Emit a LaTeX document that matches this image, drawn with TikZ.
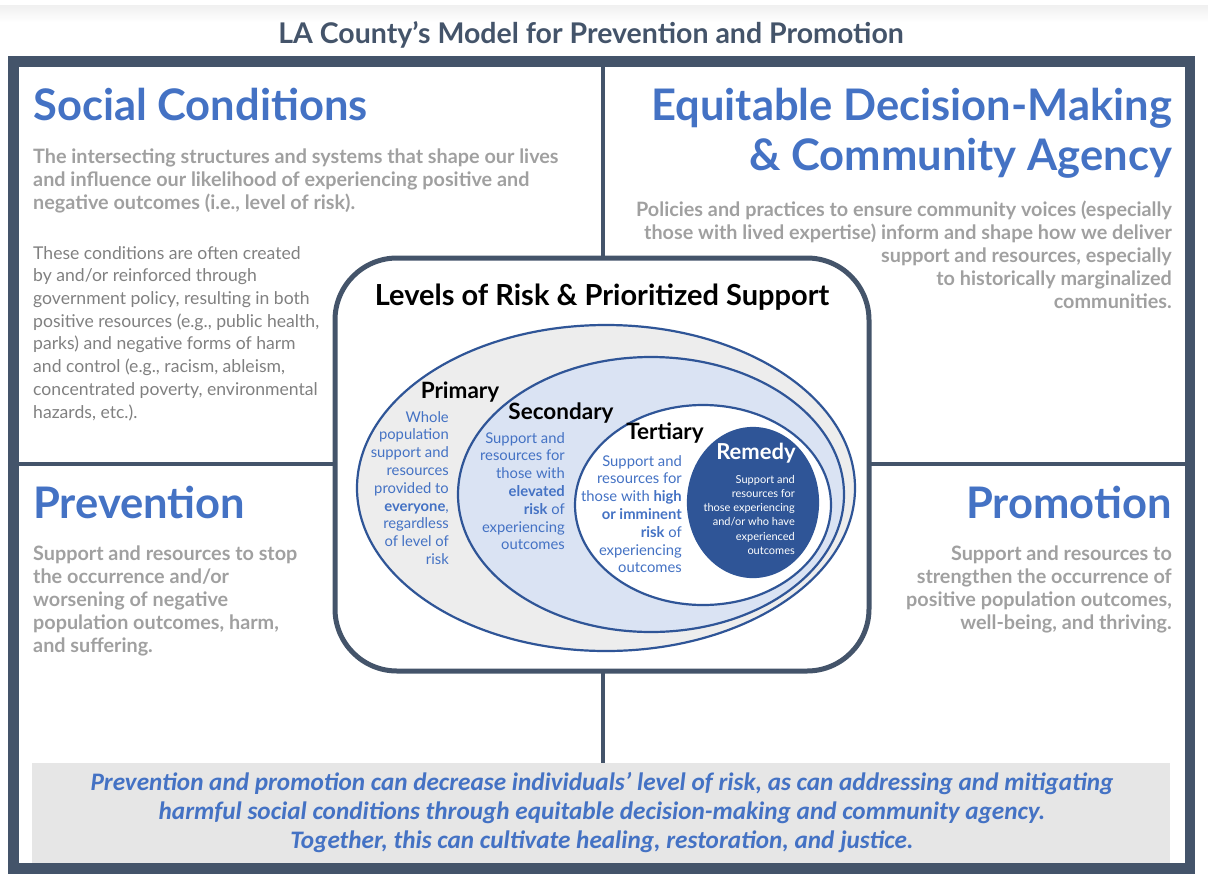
\documentclass[tikz,border=0pt]{standalone}
\usepackage{fontspec}
\setmainfont{Lato}
\newfontfamily\carl{Carlito}
\definecolor{framec}{HTML}{44546A}
\definecolor{headblue}{HTML}{4472C4}
\definecolor{boldgrey}{HTML}{A0A0A0}
\definecolor{reggrey}{HTML}{808080}
\definecolor{ellline}{HTML}{2F5597}
\definecolor{primfill}{HTML}{EDEDED}
\definecolor{secfill}{HTML}{DAE3F3}
\definecolor{boxgrey}{HTML}{E6E6E6}
\tikzset{
  heading/.style={inner sep=0, text=headblue, font=\fontsize{43.5}{48}\selectfont\bfseries},
  boldpara/.style={inner sep=0, text=boldgrey, font=\fontsize{19.8}{23}\selectfont\bfseries},
  regpara/.style={inner sep=0, text=reggrey, font=\fontsize{17.6}{22.7}\selectfont},
  divider/.style={draw=framec, line width=4},
  ell/.style={draw=ellline, line width=2.2},
  level/.style={inner sep=0, font=\fontsize{22.5}{24}\selectfont\bfseries},
  leveltext/.style={inner sep=0, text=headblue, align=right, anchor=north east, font=\fontsize{14.8}{17.8}\selectfont},
}
\begin{document}
\begin{tikzpicture}[x=1pt,y=-1pt]
\useasboundingbox (0,0) rectangle (1208,892);
\shade[top color=black!6, bottom color=white] (0,5) rectangle (1208,22);
% title
\node[inner sep=0, text=framec, font=\fontsize{28.5}{30}\selectfont\bfseries] (title) at (591,35) {LA County’s Model for Prevention and Promotion};
% dividers
\coordinate (vt) at (603,66);
\coordinate (vb) at (603,864);
\coordinate (hl) at (18,464);
\coordinate (hr) at (1185,464);
\draw[divider] (vt) -- (vb);
\draw[divider] (hl) -- (hr);
% frame
\draw[framec, line width=10.5] (13.25,61.25) rectangle (1189.75,868.25);
% bottom box
\node[fill=boxgrey, minimum width=1138, minimum height=100, anchor=north west, inner sep=0] (box) at (32,763) {};
\node[inner sep=0, align=center, text=headblue, font=\carl\fontsize{25.2}{29}\selectfont\bfseries\itshape] (boxtext) at (602,813)
 {Prevention and promotion can decrease individuals’ level of risk, as can addressing and mitigating\\
  harmful social conditions through equitable decision-making and community agency.\\
  Together, this can cultivate healing, restoration, and justice.};
% center panel
\draw[framec, line width=5, fill=white, rounded corners=62] (335,258) rectangle (869,671);
\node[inner sep=0, font=\fontsize{29}{32}\selectfont\bfseries] (levels) at (602,297) {Levels of Risk \& Prioritized Support};
% ellipses
\draw[ell, fill=primfill] (606,488) ellipse [x radius=249, y radius=163];
\draw[ell, fill=secfill] (651,494.5) ellipse [x radius=193, y radius=137.5];
\draw[ell, fill=white] (703,505) ellipse [x radius=128, y radius=100];
\draw[ell, fill=ellline] (753,502.5) ellipse [x radius=65, y radius=74.5];
% level labels
\node[level] (prim) at (460,392) {Primary};
\node[leveltext] (primt) at (449,411) {Whole\\population\\support and\\resources\\provided to\\\textbf{everyone},\\regardless\\of level of\\risk};
\node[level] (sec) at (561,413) {Secondary};
\node[leveltext] (sect) at (565,432) {Support and\\resources for\\those with\\\textbf{elevated}\\\textbf{risk} of\\experiencing\\outcomes};
\node[level] (ter) at (665,433) {Tertiary};
\node[leveltext] (tert) at (682,455) {Support and\\resources for\\those with \textbf{high}\\\textbf{or imminent}\\\textbf{risk} of\\experiencing\\outcomes};
\node[level, text=white, font=\fontsize{22}{24}\selectfont\bfseries] (rem) at (756,453) {Remedy};
\node[leveltext, text=white, font=\fontsize{11}{14.2}\selectfont] (remt) at (795,475) {Support and\\resources for\\those experiencing\\and/or who have\\experienced\\outcomes};
% quadrants
\node[heading, anchor=base west] (soc) at (33,120) {Social Conditions};
\node[boldpara, align=left, anchor=north west] (soct) at (33,149) {The intersecting structures and systems that shape our lives\\and influence our likelihood of experiencing positive and\\negative outcomes (i.e., level of risk).};
\node[regpara, align=left, anchor=north west] (soct2) at (33,246) {These conditions are often created\\by and/or reinforced through\\government policy, resulting in both\\positive resources (e.g., public health,\\parks) and negative forms of harm\\and control (e.g., racism, ableism,\\concentrated poverty, environmental\\hazards, etc.).};
\node[heading, anchor=base east] (eq1) at (1172,120) {Equitable Decision-Making};
\node[heading, anchor=base east] (eq2) at (1172,170) {\& Community Agency};
\node[boldpara, align=right, anchor=north east] (eqt) at (1172,201) {Policies and practices to ensure community voices (especially\\those with lived expertise) inform and shape how we deliver\\support and resources, especially\\to historically marginalized\\communities.};
\node[heading, anchor=base west] (prev) at (33,518) {Prevention};
\node[boldpara, align=left, anchor=north west] (prevt) at (33,546) {Support and resources to stop\\the occurrence and/or\\worsening of negative\\population outcomes, harm,\\and suffering.};
\node[heading, anchor=base east] (prom) at (1172,518) {Promotion};
\node[boldpara, align=right, anchor=north east] (promt) at (1172,546) {Support and resources to\\strengthen the occurrence of\\positive population outcomes,\\well-being, and thriving.};
\end{tikzpicture}
\end{document}
